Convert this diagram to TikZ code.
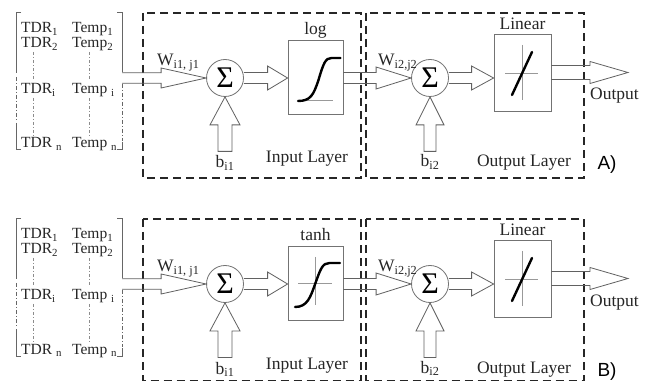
\documentclass[tikz,border=0pt]{standalone}
\usepackage{fontspec}
\setmainfont{Liberation Serif}
\newfontfamily\panelfont{Liberation Sans}
\usetikzlibrary{calc}

\tikzset{
  layerbox/.style={draw=black!85, line width=1.8pt, dash pattern=on 8pt off 5pt},
  fnbox/.style={draw=black!55, line width=0.8pt, inner sep=0pt},
  sumnode/.style={circle, draw=black!55, line width=0.8pt, minimum size=37pt, inner sep=0pt,
    font=\fontsize{30}{30}\selectfont},
  blockarrow/.style={draw=black!62, line width=0.8pt, line join=miter},
  bracketline/.style={draw=black!60, line width=1pt},
  bracketdots/.style={draw=black!60, line width=1pt, dash pattern=on 4pt off 2pt on 1pt off 2pt},
  coldots/.style={draw=black!45, line width=0.6pt, dash pattern=on 3pt off 2pt on 1pt off 2pt},
  mtext/.style={font=\fontsize{15.5}{15.5}\selectfont, text=black!85, inner sep=0pt},
  ltext/.style={font=\fontsize{17.5}{17.5}\selectfont, text=black!85, inner sep=0pt},
  tagtext/.style={font=\panelfont\fontsize{19}{19}\selectfont, inner sep=0pt},
  curve/.style={draw=black, line width=2.4pt, line cap=round},
  axisline/.style={draw=black!40, line width=0.8pt},
}

% horizontal block arrow: start, tip, shaft half width, head half width, head length
\newcommand{\hblock}[5]{%
  \draw[blockarrow] ($(#1)+(0,-#3)$) -- ($(#2)+(-#5,-#3)$) -- ($(#2)+(-#5,-#4)$) -- (#2)
    -- ($(#2)+(-#5,#4)$) -- ($(#2)+(-#5,#3)$) -- ($(#1)+(0,#3)$);}
% upward block arrow: base, tip, shaft half width, head half width, head length
\newcommand{\vblock}[5]{%
  \draw[blockarrow] ($(#1)+(-#3,0)$) -- ($(#2)+(-#3,#5)$) -- ($(#2)+(-#4,#5)$) -- (#2)
    -- ($(#2)+(#4,#5)$) -- ($(#2)+(#3,#5)$) -- ($(#1)+(#3,0)$) -- cycle;}

% one network: prefix, activation name, panel tag, bottom of the layer boxes
\newcommand{\netpanel}[4]{%
  % input matrix
  \draw[bracketline] (21,13) -- (16,13) -- (16,73);
  \draw[bracketdots] (16,77) -- (16,121);
  \draw[bracketline] (16,123) -- (16,150) -- (21,150);
  \draw[bracketline] (117,13) -- (122,13) -- (122,72.5);
  \draw[bracketdots] (122,84) -- (122,141);
  \draw[bracketline] (122,142) -- (122,150) -- (117,150);
  \node[mtext, anchor=base west] (#1-tdr1) at (21,33) {TDR\textsubscript{1}};
  \node[mtext, anchor=base west] (#1-tdr2) at (21,48) {TDR\textsubscript{2}};
  \node[mtext, anchor=base west] (#1-tdri) at (21,94) {TDR\textsubscript{i}};
  \node[mtext, anchor=base west] (#1-tdrn) at (21,148) {TDR \textsubscript{n}};
  \node[mtext, anchor=base west] (#1-tmp1) at (72,33) {Temp\textsubscript{1}};
  \node[mtext, anchor=base west] (#1-tmp2) at (72,48) {Temp\textsubscript{2}};
  \node[mtext, anchor=base west] (#1-tmpi) at (72,94) {Temp \textsubscript{i}};
  \node[mtext, anchor=base west] (#1-tmpn) at (72,148) {Temp \textsubscript{n}};
  \draw[coldots] (33,52) -- (33,80) (33,98) -- (33,136);
  \draw[coldots] (89,52) -- (89,80) (89,98) -- (89,136);
  \coordinate (#1-mat) at (122,78);
  % layer frames
  \draw[layerbox] (143,13) rectangle (361,#4);
  \draw[layerbox] (366,13) rectangle (584,#4);
  % input layer
  \node[sumnode] (#1-sum1) at (225,78) {Σ};
  \node[fnbox, minimum width=55pt, minimum height=74pt] (#1-fn) at (315.5,77) {};
  \node[ltext, anchor=base] (#1-fnname) at (#1-fn.north |- 0,35) {#2};
  \node[ltext, anchor=base west] (#1-w1) at (157,66) {W\textsubscript{i1, j1}};
  \coordinate (#1-bias1) at ($(#1-sum1.south)+(0,54.5)$);
  \node[ltext, anchor=base] (#1-b1) at (225,168) {b\textsubscript{i1}};
  \node[ltext, anchor=base] (#1-inlab) at (307,163) {Input Layer};
  % output layer
  \node[sumnode] (#1-sum2) at (430,78) {Σ};
  \node[fnbox, minimum width=57pt, minimum height=77pt] (#1-lin) at (522.5,72.5) {};
  \node[ltext, anchor=base] (#1-linname) at (#1-lin.north |- 0,30) {Linear};
  \node[ltext, anchor=base west] (#1-w2) at (378,66) {W\textsubscript{i2,j2}};
  \coordinate (#1-bias2) at ($(#1-sum2.south)+(0,54.5)$);
  \node[ltext, anchor=base] (#1-b2) at (430,167) {b\textsubscript{i2}};
  \node[ltext, anchor=base] (#1-outlab) at (524,167) {Output Layer};
  \coordinate (#1-out) at (628,72.5);
  \node[ltext, anchor=base west] (#1-outname) at (590,100) {Output};
  \node[tagtext, anchor=base] (#1-tag) at (607,170) {#3};
  % linear transfer symbol
  \begin{scope}[shift={(#1-lin.center)}]
    \draw[axisline] (-0.5,-27.5) -- (-0.5,27.5);
    \draw[axisline] (-17.5,0.5) -- (15.5,0.5);
    \draw[curve] (-10.5,22.5) -- (9.5,-20.5);
  \end{scope}
  % block arrows
  \hblock{#1-mat}{#1-sum1.west}{5.3}{10}{45}
  \coordinate (#1-s2) at (#1-sum1.east);
  \hblock{#1-s2}{#1-fn.west |- #1-sum1.east}{5.5}{12}{20}
  \coordinate (#1-s3) at (#1-fn.east |- #1-sum2.west);
  \hblock{#1-s3}{#1-sum2.west}{5.5}{11}{35}
  \coordinate (#1-s4) at (#1-sum2.east);
  \hblock{#1-s4}{#1-lin.west |- #1-sum2.east}{5.5}{12}{22}
  \coordinate (#1-s5) at (#1-lin.east |- #1-out);
  \hblock{#1-s5}{#1-out}{7}{11}{38}
  \vblock{#1-bias1}{#1-sum1.south}{7}{15}{28}
  \vblock{#1-bias2}{#1-sum2.south}{6}{14}{28}
}

\begin{document}
\begin{tikzpicture}[x=1pt, y=-1pt]
  \useasboundingbox (0,0) rectangle (651,382);
  \fill[white] (0,0) rectangle (651,382);

  % A) logistic hidden layer
  \netpanel{a}{log}{A)}{178}
  \begin{scope}[shift={(a-fn.center)}]
    \draw[axisline] (-8.5,23) -- (17.5,23);
    \draw[curve] (-17.5,24) .. controls (-5,24) and (-2,18) .. (3,3)
      .. controls (8,-14) and (10,-19) .. (16,-19) -- (25,-19);
  \end{scope}

  % B) tanh hidden layer
  \begin{scope}[shift={(0,206)}]
    \netpanel{b}{tanh}{B)}{174.5}
    \begin{scope}[shift={(b-fn.center)}]
      \draw[axisline] (-0.5,-26) -- (-0.5,22);
      \draw[axisline] (-17.5,0) -- (16.5,0);
      \draw[curve] (-20.5,24) .. controls (-8,24) and (-5,14) .. (0,0)
        .. controls (5,-14) and (7,-20) .. (14,-20) -- (24.5,-20);
    \end{scope}
  \end{scope}
\end{tikzpicture}
\end{document}
